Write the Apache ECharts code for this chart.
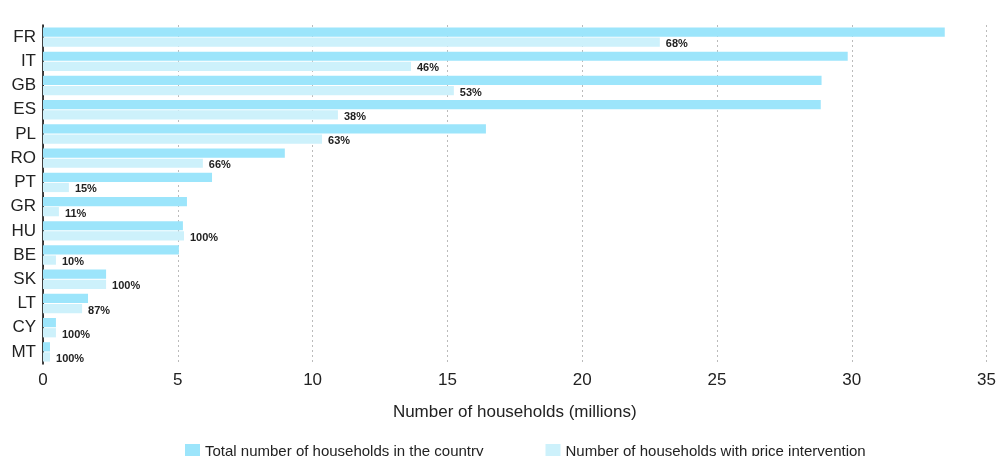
<!DOCTYPE html>
<html>
<head>
<meta charset="utf-8">
<script src="https://cdn.jsdelivr.net/npm/echarts@6/dist/echarts.min.js"></script>
<style>
  html, body { margin: 0; padding: 0; background: #fff; }
  #chart { width: 999px; height: 456px; }
</style>
</head>
<body>
<div id="chart"></div>
<script>
var chart = echarts.init(document.getElementById('chart'));

// countries, top to bottom
var countries = ['FR', 'IT', 'GB', 'ES', 'PL', 'RO', 'PT', 'GR', 'HU', 'BE', 'SK', 'LT', 'CY', 'MT'];
// total households (millions)
var totalHouseholds = [33.45, 29.85, 28.88, 28.85, 16.43, 8.97, 6.27, 5.34, 5.19, 5.04, 2.34, 1.67, 0.48, 0.26];
// households with price intervention (millions)
var interventionHouseholds = [22.88, 13.65, 15.24, 10.94, 10.35, 5.93, 0.96, 0.59, 5.23, 0.48, 2.34, 1.45, 0.48, 0.26];
// share label shown next to the intervention bar
var shareLabels = ['68%', '46%', '53%', '38%', '63%', '66%', '15%', '11%', '100%', '10%', '100%', '87%', '100%', '100%'];

var font = "'Liberation Sans', Arial, sans-serif";

var option = {
    animation: false,
    textStyle: { fontFamily: font },
    grid: { left: 43, right: 12, top: 25, bottom: 92 },
    legend: {
        top: 439,
        left: 180,
        itemWidth: 15,
        itemHeight: 15,
        itemGap: 62,
        icon: 'rect',
        textStyle: { fontFamily: font, fontSize: 15, color: '#222' },
        data: ['Total number of households in the country', 'Number of households with price intervention']
    },
    xAxis: {
        type: 'value',
        min: 0,
        max: 35,
        interval: 5,
        name: 'Number of households (millions)',
        nameLocation: 'middle',
        nameGap: 40,
        nameTextStyle: { fontFamily: font, fontSize: 17, color: '#222' },
        axisLine: { show: false },
        axisTick: { show: false },
        axisLabel: { fontFamily: font, fontSize: 17, color: '#222', margin: 8 },
        splitLine: { show: true, lineStyle: { color: '#bbb', type: [2, 3], width: 1 } }
    },
    yAxis: {
        type: 'category',
        inverse: true,
        data: countries,
        axisLine: { show: true, lineStyle: { color: '#000', width: 1.5 } },
        axisTick: { show: false },
        axisLabel: { interval: 0, fontFamily: font, fontSize: 17, color: '#222', margin: 7 }
    },
    series: [{
        name: 'Total number of households in the country',
        type: 'bar',
        data: totalHouseholds,
        barGap: '10%',
        barCategoryGap: '20%',
        itemStyle: { color: '#9ce5fb' }
    }, {
        name: 'Number of households with price intervention',
        type: 'bar',
        data: interventionHouseholds,
        itemStyle: { color: '#cdf1fb' },
        label: {
            show: true,
            position: 'right',
            distance: 6,
            offset: [0, 2],
            fontFamily: font,
            fontSize: 11,
            fontWeight: 'bold',
            color: '#222',
            formatter: function (p) { return shareLabels[p.dataIndex]; }
        }
    }]
};

chart.setOption(option);
</script>
</body>
</html>
